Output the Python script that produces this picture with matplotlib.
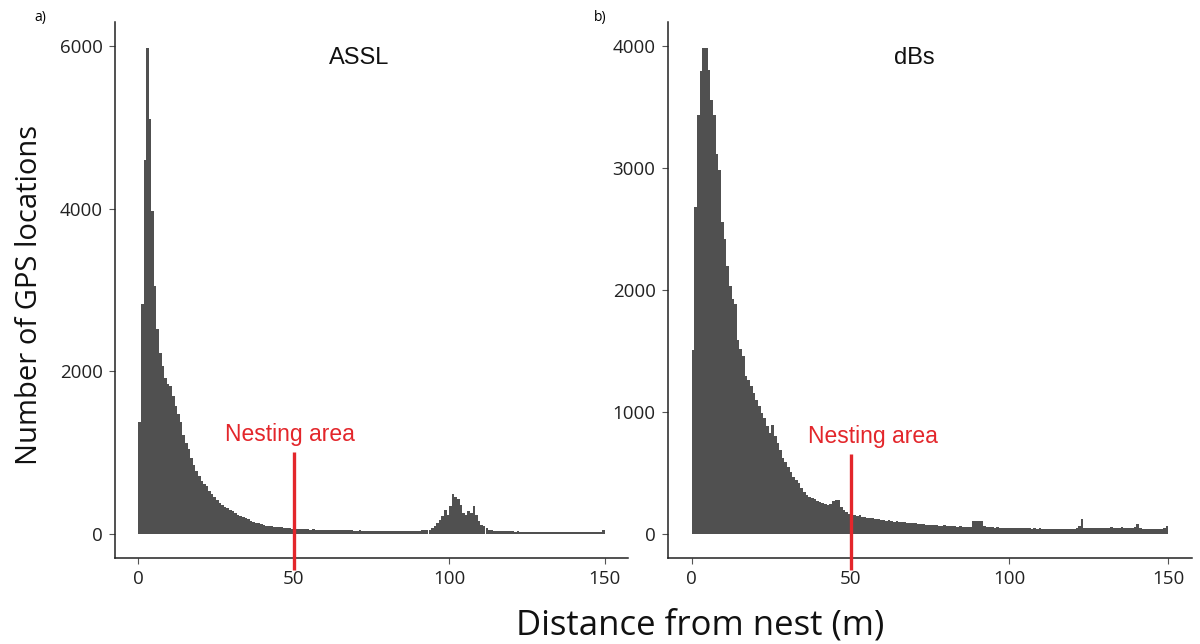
import matplotlib.pyplot as plt
import numpy as np

plt.rcParams["font.family"] = ["Open Sans", "DejaVu Sans"]

# histogram counts, 180 bins of 0.833 m from 0 to 150 m
assl_counts = [
    1370, 2830, 4600, 5980, 5100, 3970, 3050, 2520, 2230, 2070,
    1920, 1840, 1820, 1700, 1570, 1470, 1370, 1220, 1120, 1040,
    935, 850, 770, 710, 650, 610, 585, 525, 485, 445,
    410, 375, 350, 330, 310, 295, 280, 255, 235, 220,
    205, 190, 175, 160, 148, 135, 125, 115, 108, 100,
    95, 90, 86, 82, 80, 76, 74, 70, 66, 62,
    60, 58, 55, 57, 52, 54, 50, 53, 48, 50,
    47, 46, 48, 45, 44, 46, 42, 43, 41, 42,
    40, 39, 41, 38, 37, 39, 36, 37, 35, 36,
    34, 35, 33, 34, 32, 33, 31, 32, 30, 31,
    30, 29, 31, 30, 29, 30, 31, 33, 36, 40,
    45, 50, 49, 70, 91, 132, 173, 214, 296, 235,
    338, 482, 453, 428, 358, 255, 235, 276, 255, 338,
    235, 152, 111, 91, 70, 49, 41, 35, 32, 30,
    29, 28, 29, 27, 28, 26, 27, 25, 26, 25,
    24, 25, 24, 23, 24, 23, 22, 24, 23, 22,
    22, 23, 21, 22, 21, 22, 20, 21, 22, 21,
    20, 21, 20, 22, 21, 20, 21, 22, 24, 50,
]

dbs_counts = [
    1510, 2680, 3436, 3800, 3986, 3986, 3802, 3560, 3436, 3120,
    2983, 2557, 2420, 2200, 2035, 1925, 1883, 1590, 1513, 1458,
    1293, 1265, 1210, 1156, 1100, 1046, 991, 950, 881, 826,
    894, 798, 743, 688, 620, 592, 551, 510, 468, 441,
    414, 372, 340, 317, 303, 295, 285, 270, 262, 249,
    245, 235, 240, 265, 280, 275, 221, 193, 180, 158,
    158, 150, 144, 150, 140, 135, 130, 128, 125, 120,
    118, 115, 110, 105, 108, 100, 98, 102, 95, 93,
    96, 90, 88, 85, 87, 82, 80, 78, 75, 72,
    70, 68, 70, 66, 65, 67, 63, 62, 64, 60,
    58, 60, 57, 56, 58, 56, 100, 106, 104, 102,
    60, 55, 52, 54, 50, 52, 48, 50, 47, 49,
    46, 48, 45, 47, 44, 46, 43, 45, 42, 44,
    41, 43, 40, 42, 39, 41, 38, 40, 38, 40,
    39, 38, 40, 39, 42, 45, 60, 117, 50, 45,
    46, 48, 47, 50, 49, 48, 50, 49, 51, 48,
    50, 49, 52, 50, 48, 50, 49, 51, 78, 45,
    42, 40, 41, 39, 40, 42, 41, 40, 44, 66,
]

panels = [
    ("ASSL", assl_counts, [0, 2000, 4000, 6000], (-300, 6300), 1000, -1.3, 71),
    ("dBs", dbs_counts, [0, 1000, 2000, 3000, 4000], (-200, 4200), 650, 7.0, 70),
]
nest_dist = 50
bin_w = 150 / 180
bar_color = "#505050"
red = "#e3262b"

fig = plt.figure(figsize=(12, 6.44), dpi=100)
ax_a = fig.add_axes([115 / 1200, 1 - 558 / 644, (628 - 115) / 1200, (558 - 22) / 644])
ax_b = fig.add_axes([668 / 1200, 1 - 558 / 644, (1192 - 668) / 1200, (558 - 22) / 644])

for ax, (name, counts, yticks, ylim, line_top, label_dx, name_x) in zip([ax_a, ax_b], panels):
    centers = (np.arange(len(counts)) + 0.5) * bin_w
    ax.bar(centers, counts, width=bin_w, color=bar_color, linewidth=0)

    ax.set_xlim(-7.5, 157.5)
    ax.set_ylim(*ylim)
    ax.set_xticks([0, 50, 100, 150])
    ax.set_yticks(yticks)

    for side in ["top", "right"]:
        ax.spines[side].set_visible(False)
    for side in ["left", "bottom"]:
        ax.spines[side].set_linewidth(1.1)
        ax.spines[side].set_color("#222222")
    ax.tick_params(length=4, width=0.8, color="#555555", labelsize=13.5,
                   labelcolor="#222222", pad=5)

    # nesting area marker
    ax.plot([nest_dist, nest_dist], [ylim[0] * 1.5, line_top], color=red,
            lw=2.4, clip_on=False, solid_capstyle="butt", zorder=3)
    ax.annotate("Nesting area", xy=(nest_dist + label_dx, line_top),
                xytext=(0, 8), textcoords="offset points",
                color=red, fontsize=16.5, ha="center", va="baseline",
                family=["Liberation Sans", "DejaVu Sans"])

    ax.annotate(name, xy=(name_x, ylim[1]), xytext=(0, -30),
                textcoords="offset points", fontsize=17, ha="center",
                va="baseline", color="#111111",
                family=["Liberation Sans", "DejaVu Sans"])

fig.text(40 / 1200, 1 - 18 / 644, "a)", fontsize=10, ha="center", va="center")
fig.text(600 / 1200, 1 - 18 / 644, "b)", fontsize=10, ha="center", va="center")

fig.text(700 / 1200, 1 - 625 / 644, "Distance from nest (m)", fontsize=25,
         ha="center", va="center", color="#111111")
fig.text(30 / 1200, 1 - 295 / 644, "Number of GPS locations", fontsize=21,
         ha="center", va="center", rotation=90, color="#111111")

plt.savefig("out.png", dpi=100)
plt.close()
